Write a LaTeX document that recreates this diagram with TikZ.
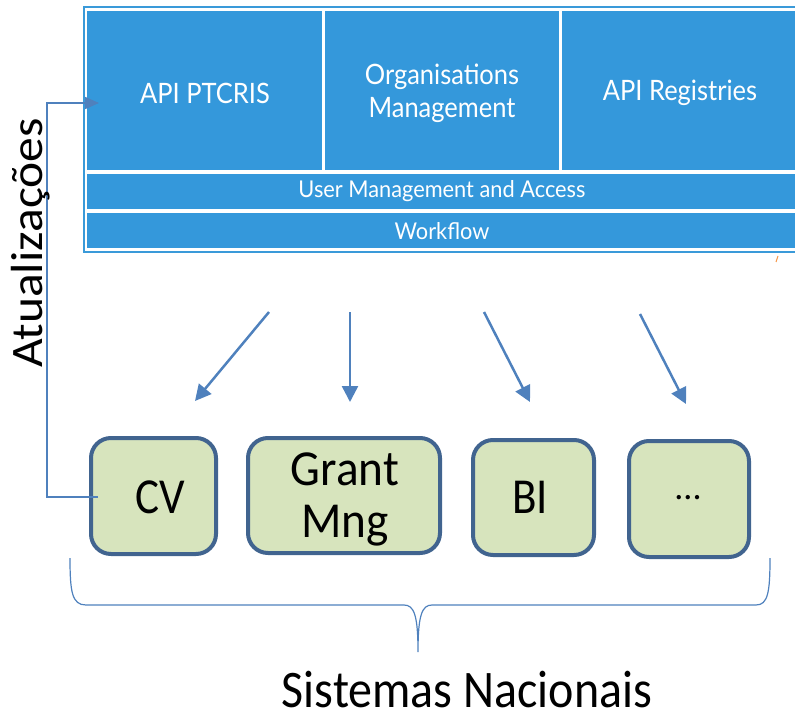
\documentclass[tikz,border=0pt]{standalone}
\usepackage{fontspec}
\setmainfont{Carlito}
\newfontfamily\latofont{Lato}
\usetikzlibrary{arrows.meta}
\definecolor{blk}{RGB}{52,152,219}
\definecolor{frm}{RGB}{58,154,217}
\definecolor{arr}{RGB}{79,129,189}
\definecolor{gfill}{RGB}{215,228,189}
\definecolor{gdraw}{RGB}{65,100,143}
\definecolor{orng}{RGB}{247,150,70}
\tikzset{
  blkbox/.style={fill=blk, draw=none},
  blktxt/.style={text=white, font=\latofont\fontsize{26}{30}\selectfont, align=center, inner sep=0pt},
  gbox/.style={fill=gfill, draw=gdraw, line width=4pt, rounded corners=20pt},
  gtxt/.style={font=\fontsize{45}{50}\selectfont, align=center, inner sep=0pt},
  flow/.style={draw=arr, line width=2.5pt, -{Triangle[length=16pt,width=16pt]}},
  link/.style={draw=arr, line width=1.5pt},
}
\begin{document}
\begin{tikzpicture}[x=1pt,y=-1pt]
\useasboundingbox (0,0) rectangle (795,709);
% frame
\draw[frm, line width=1.5pt, fill=white] (84,7) rectangle (810,252);
% blocks
\fill[blkbox] (87,11) rectangle (322,170);
\fill[blkbox] (325,11) rectangle (559,170);
\fill[blkbox] (562,11) rectangle (810,170);
\fill[blkbox] (87,174) rectangle (810,209);
\fill[blkbox] (87,213) rectangle (810,248);
\node[blktxt] (api) at (205,93) {\scalebox{0.98}[1.08]{API PTCRIS}};
\node[blktxt] (org1) at (442,77) {\scalebox{0.98}[1.08]{Organisations}};
\node[blktxt] (org2) at (442,110) {\scalebox{0.98}[1.08]{Management}};
\node[blktxt] (reg) at (680,93) {\scalebox{0.98}[1.08]{API Registries}};
\node[blktxt, font=\latofont\fontsize{22}{24}\selectfont] (uma) at (442,191) {\scalebox{0.99}[1.05]{User Management and Access}};
\node[blktxt, font=\latofont\fontsize{22}{24}\selectfont] (wf) at (442,231) {\scalebox{0.99}[1.05]{Workflow}};
\draw[orng, line width=1pt] (778,256) -- (776,262);
% green boxes
\draw[gbox] (91,438) rectangle (216,554);
\draw[gbox] (248,438) rectangle (440,553);
\draw[gbox] (473,440) rectangle (594,555);
\draw[gbox] (629,441) rectangle (749,557);
\node[gtxt] (cv) at (160,497) {\scalebox{1}[1.12]{CV}};
\node[gtxt] (gm1) at (345,469) {\scalebox{1.05}[1.12]{Grant}};
\node[gtxt] (gm2) at (345,526) {\scalebox{1.05}[1.12]{Mng}};
\node[gtxt] (bi) at (530,497) {\scalebox{1}[1.12]{BI}};
\node[gtxt] (dots) at (688,498) {\fontsize{36}{40}\selectfont ...};
% arrows
\coordinate (a1s) at (269,312); \coordinate (a1e) at (195,401);
\coordinate (a2s) at (350,312); \coordinate (a2e) at (350,402);
\coordinate (a3s) at (484,312); \coordinate (a3e) at (530,402);
\coordinate (a4s) at (640,314); \coordinate (a4e) at (686,404);
\draw[flow] (a1s) -- (a1e);
\draw[flow] (a2s) -- (a2e);
\draw[flow] (a3s) -- (a3e);
\draw[flow] (a4s) -- (a4e);
% update connector
\coordinate (cvl) at (98,497);
\coordinate (apil) at (99,103);
\draw[link, -{Triangle[length=14pt,width=12pt]}] (cvl) -- (47,497) -- (47,103) -- (apil);
\node[font=\fontsize{45}{50}\selectfont, rotate=90, inner sep=0pt] (atu) at (31,243) {\scalebox{1.1}[1]{Atualizações}};
% brace
\draw[arr, line width=1.2pt] (70,558) .. controls (70,592) and (72,605) .. (86,605) -- (404,605)
  .. controls (414,605) and (418,615) .. (418,652)
  .. controls (418,615) and (422,605) .. (432,605) -- (756,605)
  .. controls (768,605) and (770,592) .. (770,558);
\node[font=\fontsize{48}{50}\selectfont, inner sep=0pt, anchor=base] (sn) at (467,707) {\scalebox{1}[1.1]{Sistemas Nacionais}};
\end{tikzpicture}
\end{document}
